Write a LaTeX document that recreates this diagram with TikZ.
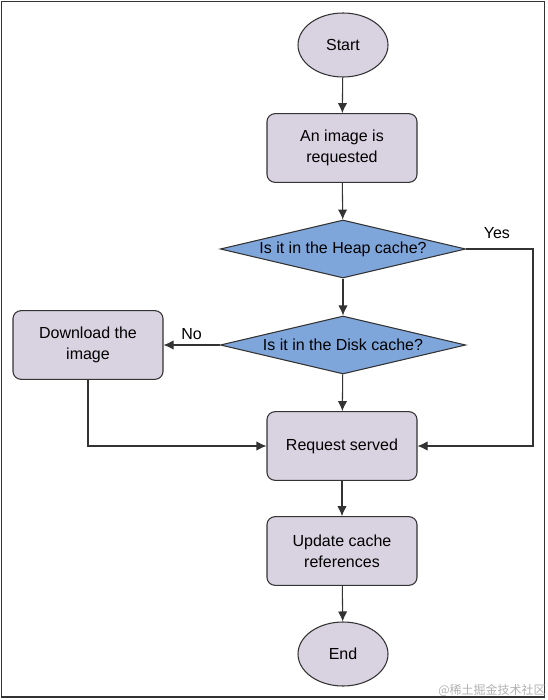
\documentclass[tikz,border=0pt]{standalone}
\usepackage{fontspec}
\setmainfont{Liberation Sans}
\newfontfamily\cjkfont{Noto Sans CJK SC}
\usetikzlibrary{shapes.geometric,arrows.meta}
\definecolor{boxfill}{HTML}{D9D2E1}
\definecolor{diafill}{HTML}{7FA6DB}
\definecolor{linegray}{HTML}{333333}

\begin{document}
\begin{tikzpicture}[x=0.75pt,y=-0.75pt,
    font=\fontsize{12}{15.5}\selectfont,
    process/.style={draw=linegray, fill=boxfill, line width=0.8pt, rounded corners=6pt,
      minimum width=112.5pt, minimum height=51.5pt, align=center, inner sep=2pt},
    decision/.style={diamond, draw=linegray, fill=diafill, line width=0.8pt, aspect=4.2,
      minimum width=184pt, minimum height=43.5pt, inner sep=0pt},
    terminal/.style={ellipse, draw=linegray, fill=boxfill, line width=0.8pt,
      minimum width=67.5pt, minimum height=48pt, inner sep=0pt},
    flow/.style={draw=linegray, line width=0.8pt, -{Latex[length=7.5pt,width=7pt]}}]
      \useasboundingbox (0,0) rectangle (547,700);
      \draw[linegray, line width=1.2pt] (1.5,1.5) rectangle (544.5,697);

      \node[terminal] (start) at (343,45) {Start};
      \node[process] (requested) at (342,148) {An image is\\requested};
      \node[decision] (heap) at (343,249) {Is it in the Heap cache?};
      \node[decision] (disk) at (343,345) {Is it in the Disk cache?};
      \node[process] (download) at (88,345) {Download the\\image};
      \node[process] (served) at (342,446) {Request served};
      \node[process] (update) at (342,551) {Update cache\\references};
      \node[terminal] (end) at (343,654) {End};
      \coordinate (yesbend) at (533,249);

      \draw[flow] (start) -- (requested);
      \draw[flow] (requested) -- (heap);
      \draw[flow] (heap) -- (disk);
      \draw[flow] (disk) -- (served);
      \draw[flow] (heap.east) -- node[above=4pt, xshift=-2pt] (yes) {Yes} (yesbend) |- (served.east);
      \draw[flow] (disk.west) -- node[above] (no) {No} (download.east);
      \draw[flow] (download.south) |- (served.west);
      \draw[flow] (served) -- (update);
      \draw[flow] (update) -- (end);

      \node[text=gray!60, font=\cjkfont\fontsize{9}{9}\selectfont] (watermark) at (492,690) {@稀土掘金技术社区};
    \end{tikzpicture}
\end{document}
